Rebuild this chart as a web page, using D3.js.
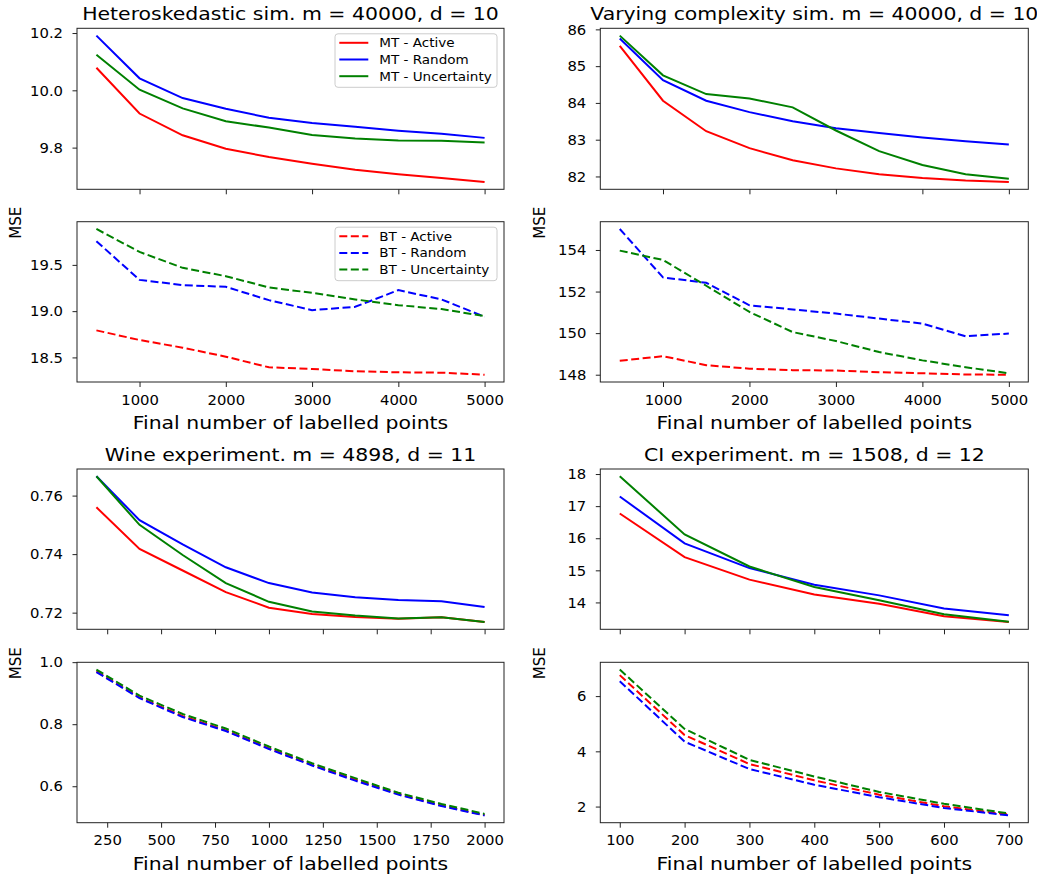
<!DOCTYPE html>
<html>
<head>
<meta charset="utf-8">
<script src="https://cdn.jsdelivr.net/npm/d3@7"></script>
<style>
  body { margin: 0; background: #fff; }
  text { font-family: "DejaVu Sans", sans-serif; fill: #000; }
</style>
</head>
<body>
<svg id="chart" width="1037" height="874"></svg>
<script>
// x values for each experiment
const simX = [500, 1000, 1500, 2000, 2500, 3000, 3500, 4000, 4500, 5000];
const wineX = [200, 400, 600, 800, 1000, 1200, 1400, 1600, 1800, 2000];
const ciX = [100, 200, 300, 400, 500, 600, 700];

const methods = ['Active', 'Random', 'Uncertainty'];

// series in order: Active, Random, Uncertainty
const hetMT = [
  [10.079, 9.919, 9.843, 9.796, 9.767, 9.744, 9.723, 9.707, 9.694, 9.680],
  [10.191, 10.042, 9.973, 9.936, 9.904, 9.886, 9.873, 9.859, 9.848, 9.834],
  [10.124, 10.002, 9.937, 9.892, 9.870, 9.844, 9.832, 9.825, 9.824, 9.818]
];
const hetBT = [
  [18.792, 18.688, 18.605, 18.508, 18.393, 18.375, 18.350, 18.339, 18.335, 18.313],
  [19.756, 19.338, 19.281, 19.263, 19.119, 19.011, 19.047, 19.227, 19.127, 18.939],
  [19.888, 19.640, 19.468, 19.378, 19.256, 19.198, 19.127, 19.065, 19.022, 18.947]
];
const varMT = [
  [85.55, 84.06, 83.23, 82.77, 82.44, 82.22, 82.06, 81.96, 81.89, 81.85],
  [85.75, 84.62, 84.06, 83.75, 83.50, 83.31, 83.18, 83.06, 82.96, 82.87],
  [85.83, 84.75, 84.24, 84.12, 83.88, 83.25, 82.69, 82.31, 82.06, 81.94]
];
const varBT = [
  [148.67, 148.89, 148.46, 148.29, 148.22, 148.20, 148.12, 148.07, 148.01, 148.00],
  [155.01, 152.68, 152.42, 151.34, 151.14, 150.94, 150.70, 150.46, 149.85, 149.98],
  [153.97, 153.52, 152.28, 151.02, 150.05, 149.62, 149.09, 148.69, 148.36, 148.07]
];
const wineMT = [
  [0.7560, 0.7418, 0.7344, 0.7270, 0.7217, 0.7195, 0.7185, 0.7179, 0.7184, 0.7168],
  [0.7666, 0.7516, 0.7433, 0.7355, 0.7301, 0.7269, 0.7253, 0.7243, 0.7239, 0.7219],
  [0.7666, 0.7500, 0.7397, 0.7301, 0.7237, 0.7204, 0.7190, 0.7180, 0.7184, 0.7168]
];
const wineBT = [
  [0.970, 0.886, 0.826, 0.780, 0.722, 0.669, 0.621, 0.575, 0.538, 0.507],
  [0.968, 0.884, 0.823, 0.778, 0.720, 0.667, 0.618, 0.573, 0.536, 0.506],
  [0.976, 0.892, 0.833, 0.786, 0.728, 0.674, 0.626, 0.579, 0.543, 0.511]
];
const ciMT = [
  [16.77, 15.41, 14.71, 14.25, 13.96, 13.57, 13.39],
  [17.30, 15.84, 15.07, 14.55, 14.22, 13.81, 13.60],
  [17.93, 16.12, 15.12, 14.48, 14.07, 13.63, 13.40]
];
const ciBT = [
  [6.76, 4.59, 3.54, 2.95, 2.43, 2.01, 1.71],
  [6.54, 4.35, 3.36, 2.79, 2.34, 1.95, 1.68],
  [6.96, 4.81, 3.69, 3.09, 2.53, 2.10, 1.75]
];

// tick values
const simTicks = [1000, 2000, 3000, 4000, 5000];
const wineTicks = [250, 500, 750, 1000, 1250, 1500, 1750, 2000];
const ciTicks = [100, 200, 300, 400, 500, 600, 700];
const hetMTTicks = [9.8, 10.0, 10.2];
const hetBTTicks = [18.5, 19.0, 19.5];
const varMTTicks = [82, 83, 84, 85, 86];
const varBTTicks = [148, 150, 152, 154];
const wineMTTicks = [0.72, 0.74, 0.76];
const wineBTTicks = [0.6, 0.8, 1.0];
const ciMTTicks = [14, 15, 16, 17, 18];
const ciBTTicks = [2, 4, 6];

const titles = [
  'Heteroskedastic sim. m = 40000, d = 10',
  'Varying complexity sim. m = 40000, d = 10',
  'Wine experiment. m = 4898, d = 11',
  'CI experiment. m = 1508, d = 12'
];

const colors = ['#ff0000', '#0000ff', '#008000'];

const svg = d3.select('#chart');

// axes boxes
const cols = [[77, 504], [600.3, 1028.3]];
const rows = [[28.3, 189.3], [221.7, 382], [469, 629.3], [662.3, 822.7]];

const panels = [
  {col: 0, row: 0, xs: simX, data: hetMT, xt: simTicks, yt: hetMTTicks, fmt: '.1f', title: titles[0], legend: 'MT'},
  {col: 0, row: 1, xs: simX, data: hetBT, xt: simTicks, yt: hetBTTicks, fmt: '.1f', dashed: true, legend: 'BT'},
  {col: 1, row: 0, xs: simX, data: varMT, xt: simTicks, yt: varMTTicks, fmt: 'd', title: titles[1]},
  {col: 1, row: 1, xs: simX, data: varBT, xt: simTicks, yt: varBTTicks, fmt: 'd', dashed: true},
  {col: 0, row: 2, xs: wineX, data: wineMT, xt: wineTicks, yt: wineMTTicks, fmt: '.2f', title: titles[2]},
  {col: 0, row: 3, xs: wineX, data: wineBT, xt: wineTicks, yt: wineBTTicks, fmt: '.1f', dashed: true},
  {col: 1, row: 2, xs: ciX, data: ciMT, xt: ciTicks, yt: ciMTTicks, fmt: 'd', title: titles[3]},
  {col: 1, row: 3, xs: ciX, data: ciBT, xt: ciTicks, yt: ciBTTicks, fmt: 'd', dashed: true}
];

// matplotlib-like 5% padding
function padded(ext) {
  const m = (ext[1] - ext[0]) * 0.05;
  return [ext[0] - m, ext[1] + m];
}

// the source figure's large text is a bit wider than tall
function wideText(sel, cx, cy, size, str) {
  return sel.append('text')
    .attr('transform', `translate(${cx},${cy}) scale(1.11,1)`)
    .attr('text-anchor', 'middle')
    .attr('font-size', size)
    .text(str);
}

panels.forEach(p => {
  const [x0, x1] = cols[p.col],
        [y0, y1] = rows[p.row],
        lower = p.row % 2 === 1;

  const x = d3.scaleLinear().domain(padded(d3.extent(p.xs))).range([x0, x1]);
  const y = d3.scaleLinear().domain(padded(d3.extent(p.data.flat()))).range([y1, y0]);

  const g = svg.append('g');

  // lines
  const line = d3.line()
    .x((d, i) => x(p.xs[i]))
    .y(d => y(d));
  p.data.forEach((s, i) => {
    g.append('path')
      .datum(s)
      .attr('d', line)
      .attr('fill', 'none')
      .attr('stroke', colors[i])
      .attr('stroke-width', 2)
      .attr('stroke-dasharray', p.dashed ? '8,3.5' : null);
  });

  // x axis
  const xa = g.append('g')
    .attr('transform', `translate(0,${y1})`)
    .call(d3.axisBottom(x)
      .tickValues(p.xt)
      .tickSize(5)
      .tickPadding(7.2)
      .tickFormat(lower ? d3.format('d') : ''));
  // y axis
  const ya = g.append('g')
    .attr('transform', `translate(${x0},0)`)
    .call(d3.axisLeft(y)
      .tickValues(p.yt)
      .tickSize(4.5)
      .tickPadding(9.5)
      .tickFormat(d3.format(p.fmt)));
  [xa, ya].forEach(a => {
    a.select('.domain').remove();
    a.selectAll('line').attr('stroke', '#222');
    a.selectAll('text')
      .attr('font-family', '"DejaVu Sans", sans-serif')
      .attr('font-size', 14.8)
      .attr('fill', '#111');
  });

  // frame
  g.append('rect')
    .attr('x', x0).attr('y', y0)
    .attr('width', x1 - x0).attr('height', y1 - y0)
    .attr('fill', 'none')
    .attr('stroke', '#222')
    .attr('stroke-width', 1);

  if (p.title) wideText(g, (x0 + x1) / 2, y0 - 8, 18.4, p.title);

  if (lower) {
    wideText(g, (x0 + x1) / 2, y1 + 47.3, 18.4, 'Final number of labelled points');
    g.append('text')
      .attr('transform', `translate(${p.col === 0 ? 15.5 : 540},${y0 + 1}) rotate(-90)`)
      .attr('dy', '0.35em')
      .attr('text-anchor', 'middle')
      .attr('font-size', 15)
      .text('MSE');
  }

  if (p.legend) {
    const lx = x1 - 169, ly = y0 + 5.5;
    const lg = g.append('g').attr('transform', `translate(${lx},${ly})`);
    lg.append('rect')
      .attr('width', 162).attr('height', 53.5)
      .attr('rx', 3)
      .attr('fill', '#fff').attr('fill-opacity', 0.8)
      .attr('stroke', '#ccc');
    methods.forEach((m, i) => {
      const yy = 9 + i * 16.7;
      lg.append('line')
        .attr('x1', 4.3).attr('x2', 33.3)
        .attr('y1', yy).attr('y2', yy)
        .attr('stroke', colors[i])
        .attr('stroke-width', 2)
        .attr('stroke-dasharray', p.dashed ? '8,3.5' : null);
      lg.append('text')
        .attr('transform', `translate(44.3,${yy}) scale(1.11,1)`)
        .attr('dy', '0.36em')
        .attr('font-size', 12.2)
        .text(`${p.legend} - ${m}`);
    });
  }
});
</script>
</body>
</html>
